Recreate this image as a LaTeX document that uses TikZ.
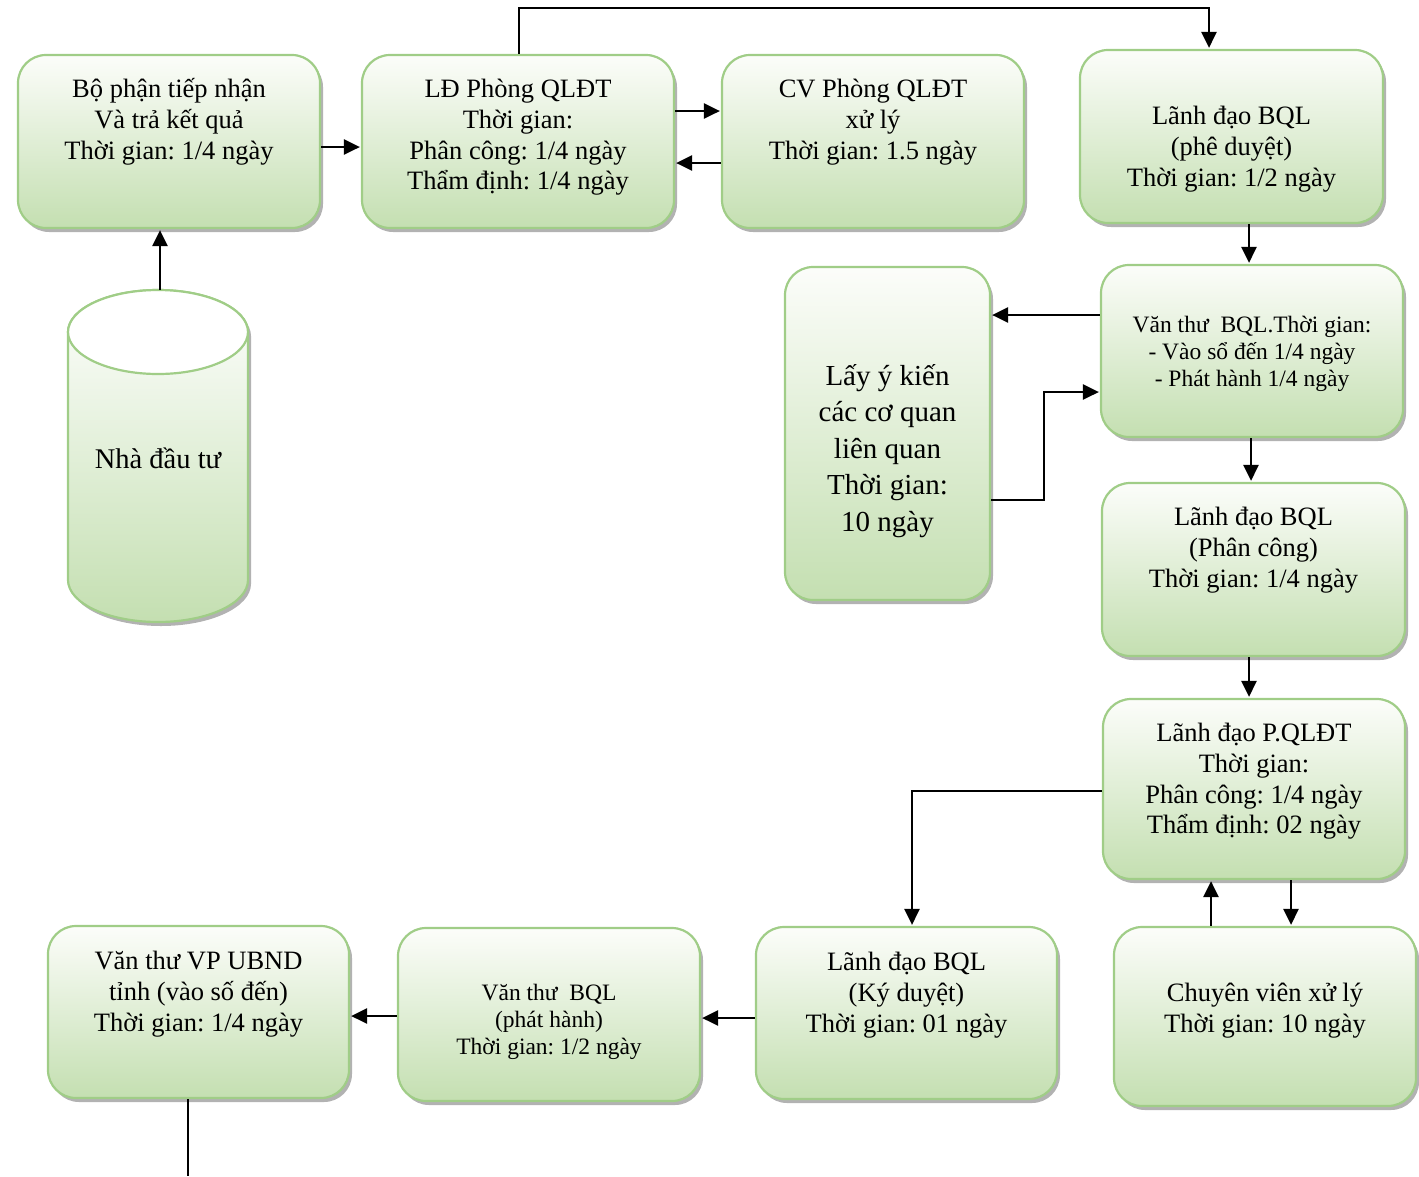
\documentclass[tikz,border=0pt]{standalone}
\usepackage{fontspec}
\setmainfont{Liberation Serif}
\usetikzlibrary{arrows.meta,shadows,fit}

\definecolor{boxline}{RGB}{160,205,135}
\definecolor{boxtop}{RGB}{252,253,250}
\definecolor{boxbot}{RGB}{196,223,177}

% font sizes used in the boxes (1 unit = 1pt)
\newcommand\fnorm{\fontsize{26.5}{30.7}\selectfont\frenchspacing\lineskiplimit=-100pt\lineskip=0pt}
\newcommand\fsmall{\fontsize{23.5}{27.2}\selectfont\frenchspacing\lineskiplimit=-100pt\lineskip=0pt}
\newcommand\fbig{\fontsize{29}{36.5}\selectfont\frenchspacing\lineskiplimit=-100pt\lineskip=0pt}
\newcommand\fcyl{\fontsize{28.5}{34}\selectfont}
\newcommand\topstrut{\rule{0pt}{1em}}

\tikzset{
  stepbox/.style={rounded corners=28pt, draw=boxline, line width=2.2pt,
    top color=boxtop, bottom color=boxbot, inner sep=0pt,
    drop shadow={shadow xshift=3pt, shadow yshift=-4pt, fill=black, opacity=0.3}},
  boxtext/.style={inner sep=0pt, align=center, text=black},
  conn/.style={line width=2.6pt, -{Triangle[length=16pt,width=15pt]}, shorten >=1pt},
  plainline/.style={line width=2.6pt}
}

% #1 name, #2-#5 corners, #6 font, #7 top of the text block, #8 text
\newcommand\flowbox[8]{%
  \node[stepbox, fit={(#2,#3) (#4,#5)}] (#1) {};
  \node[boxtext, font=#6, anchor=north] (#1-text) at ({(#2+#4)/2},#7+2.5) {\topstrut#8};
}

\begin{document}
\begin{tikzpicture}[x=1pt,y=-1pt]
\useasboundingbox (0,0) rectangle (1419,1176);

% investor (cylinder)
\fill[black, opacity=0.3] (71,336) -- (71,584) arc[start angle=180, end angle=360, x radius=90pt, y radius=42pt]
  -- (251,336) arc[start angle=0, end angle=180, x radius=90pt, y radius=42pt] -- cycle;
\shade[top color=white, bottom color=boxbot, draw=boxline, line width=2.2pt]
  (68,332) -- (68,580) arc[start angle=180, end angle=360, x radius=90pt, y radius=42pt]
  -- (248,332) arc[start angle=0, end angle=180, x radius=90pt, y radius=42pt] -- cycle;
\filldraw[fill=white, draw=boxline, line width=2.2pt]
  (158,332) ellipse[x radius=90pt, y radius=42pt];
\node[fit={(68,290) (248,622)}, inner sep=0pt] (inv) {};
\node[boxtext, font=\fcyl] (inv-text) at (158,458) {Nhà đầu tư};

% process boxes
\flowbox{b1}{18}{55}{320}{228}{\fnorm}{68.6}{Bộ phận tiếp nhận\\Và trả kết quả\\Thời gian: 1/4 ngày}
\flowbox{b2}{362}{55}{674}{228}{\fnorm}{68.6}{LĐ Phòng QLĐT\\Thời gian:\\Phân công: 1/4 ngày\\Thẩm định: 1/4 ngày}
\flowbox{b3}{722}{55}{1024}{228}{\fnorm}{68.6}{CV Phòng QLĐT\\xử lý\\Thời gian: 1.5 ngày}
\flowbox{b4}{1080}{50}{1383}{223}{\fnorm}{95.6}{Lãnh đạo BQL\\(phê duyệt)\\Thời gian: 1/2 ngày}
\flowbox{b5}{1101}{265}{1403}{437}{\fsmall}{305.9}{Văn thư\ \ BQL.Thời gian:\\- Vào sổ đến 1/4 ngày\\- Phát hành 1/4 ngày}
\flowbox{b6}{785}{267}{990}{600}{\fbig}{353.7}{Lấy ý kiến\\các cơ quan\\liên quan\\Thời gian:\\10 ngày}
\flowbox{b7}{1102}{483}{1405}{656}{\fnorm}{496.6}{Lãnh đạo BQL\\(Phân công)\\Thời gian: 1/4 ngày}
\flowbox{b8}{1103}{699}{1405}{879}{\fnorm}{712.6}{Lãnh đạo P.QLĐT\\Thời gian:\\Phân công: 1/4 ngày\\Thẩm định: 02 ngày}
\flowbox{b9}{1114}{927}{1416}{1106}{\fnorm}{972.6}{Chuyên viên xử lý\\Thời gian: 10 ngày}
\flowbox{b10}{756}{927}{1057}{1099}{\fnorm}{941.6}{Lãnh đạo BQL\\(Ký duyệt)\\Thời gian: 01 ngày}
\flowbox{b11}{398}{928}{700}{1101}{\fsmall}{973.9}{Văn thư\ \ BQL\\(phát hành)\\Thời gian: 1/2 ngày}
\flowbox{b12}{48}{926}{349}{1098}{\fnorm}{940.6}{Văn thư VP UBND\\tỉnh (vào số đến)\\Thời gian: 1/4 ngày}

% connectors
\draw[conn] (inv.north -| 160,0) -- (b1.south -| 160,0);
\draw[conn] (b1.east |- 0,147) -- (b2.west |- 0,147);
\draw[conn] (b2.east |- 0,111) -- (b3.west |- 0,111);
\draw[conn] (b3.west |- 0,163) -- (b2.east |- 0,163);
\draw[conn] (b2.north -| 519,0) -- (519,8) -| (b4.north -| 1209,0);
\draw[conn] (b4.south -| 1249,0) -- (b5.north -| 1249,0);
\draw[conn] (b5.west |- 0,315) -- (b6.east |- 0,315);
\draw[conn] (b6.east |- 0,500) -- (1044,500) |- (b5.west |- 0,392);
\draw[conn] (b5.south -| 1251,0) -- (b7.north -| 1251,0);
\draw[conn] (b7.south -| 1249,0) -- (b8.north -| 1249,0);
\draw[conn] (b8.west |- 0,791) -| (b10.north -| 912,0);
\draw[conn] (b9.north -| 1211,0) -- (b8.south -| 1211,0);
\draw[conn] (b8.south -| 1291,0) -- (b9.north -| 1291,0);
\draw[conn] (b10.west |- 0,1018) -- (b11.east |- 0,1018);
\draw[conn] (b11.west |- 0,1016) -- (b12.east |- 0,1016);
\coordinate (out) at (188,1176);
\draw[plainline] (b12.south -| out) -- (out);
\end{tikzpicture}
\end{document}
